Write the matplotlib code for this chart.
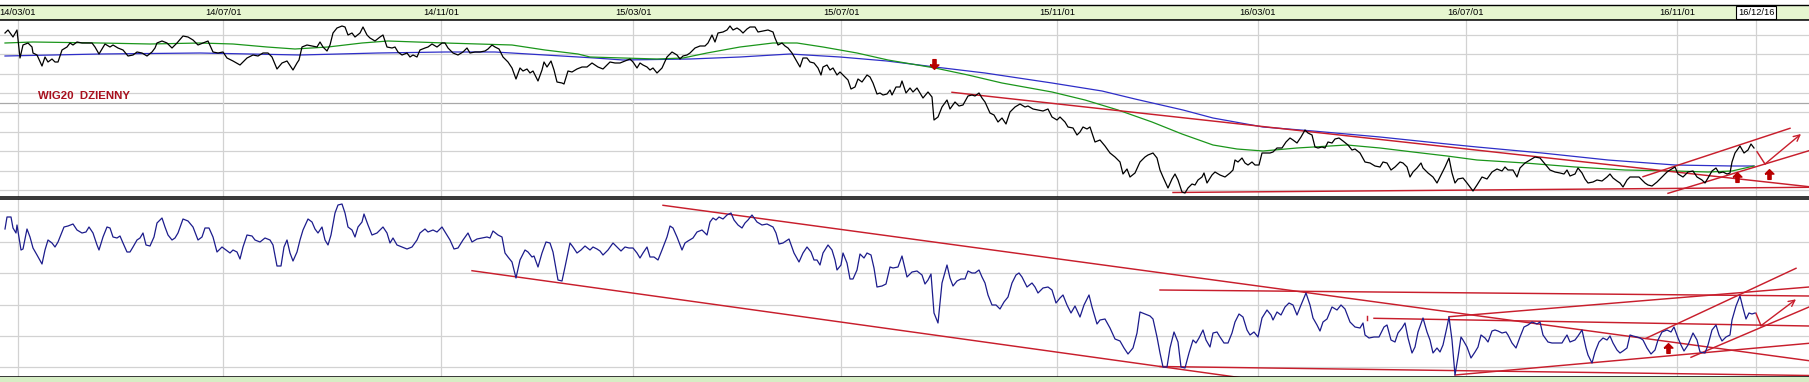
import matplotlib.pyplot as plt
import numpy as np
from matplotlib.path import Path
from matplotlib.patches import Rectangle

# x unit: chart column (one trading session is about 2.5 columns)
tick_pos = [18, 223, 441, 633, 841, 1057, 1258, 1466, 1677, 1756]
tick_lab = ['14/03/01', '14/07/01', '14/11/01', '15/03/01', '15/07/01',
            '15/11/01', '16/03/01', '16/07/01', '16/11/01', '16/12/16']

# WIG20 close (chart units)
price_t = [5, 8, 13, 17, 20, 23, 28, 32, 33, 37, 42, 45, 48, 52, 55, 58, 62, 67, 70, 73,
           77, 82, 87, 92, 95, 99, 105, 110, 113, 118, 123, 128, 133, 137, 142, 147, 152, 155, 157, 162,
           167, 172, 177, 183, 188, 193, 198, 203, 208, 213, 218, 223, 227, 233, 240, 247, 253, 258, 263, 268,
           272, 277, 282, 287, 293, 297, 299,
           302, 307, 312, 317, 320, 323, 327, 330, 333, 337, 342, 345, 348, 352, 355, 360, 363, 367, 370, 375,
           380, 383, 387, 392, 395, 398, 402, 407, 410, 413, 417, 420, 425, 428, 432, 437, 442, 445, 448, 453,
           458, 463, 467, 470, 475, 480, 485, 488, 492, 495, 499, 503, 508, 512, 516, 520, 523, 527, 530, 533,
           538, 542, 544, 547, 551, 554, 557, 562, 564, 568, 572, 577, 582, 587, 592,
           595, 598, 603, 607, 610, 615, 620, 625, 630, 633, 637, 640, 643, 647, 650, 653, 657, 662, 667, 672,
           677, 680, 683, 687, 690, 695, 700, 705, 708, 712, 715, 718, 723, 727, 730, 733, 737, 740, 743, 747,
           750, 755, 758, 763, 768, 773, 775, 778, 782, 785, 788, 792, 796, 800, 803, 807, 810, 814, 818, 821,
           823, 827, 830, 833, 837, 840, 845, 848, 851, 855, 858, 862, 867, 870, 873, 877, 880, 883, 887,
           890, 892, 896, 900, 902, 906, 910, 913, 917, 920, 923, 928, 932, 934, 938, 942, 947, 950, 955, 959,
           963, 968, 972, 975, 979, 982, 985, 990, 994, 998, 1002, 1006, 1010, 1015, 1020, 1025, 1028, 1033, 1038, 1043,
           1048, 1052, 1057, 1060, 1065, 1068, 1073, 1077, 1080, 1083, 1087, 1090, 1095, 1100, 1105, 1110, 1115, 1120, 1123, 1127,
           1130, 1135, 1140, 1145, 1148, 1153, 1157, 1160, 1163, 1168, 1172, 1175, 1178, 1182, 1185,
           1188, 1192, 1195, 1198, 1202, 1204, 1207, 1212, 1215, 1220, 1225, 1230, 1233, 1235, 1238, 1242, 1245, 1248, 1252, 1255,
           1259, 1262, 1266, 1270, 1273, 1277, 1282, 1286, 1290, 1293, 1297, 1301, 1305, 1308, 1312, 1315, 1318, 1322, 1325, 1328,
           1332, 1335, 1339, 1343, 1348, 1352, 1355, 1360, 1365, 1370, 1375, 1380, 1383, 1387, 1391, 1395, 1400, 1403, 1407, 1410,
           1413, 1417, 1421, 1423, 1428, 1433, 1437, 1442, 1445, 1449, 1452, 1455, 1458, 1463, 1467, 1470, 1473, 1477,
           1482, 1487, 1492, 1497, 1502, 1505, 1508, 1513, 1517, 1520, 1525, 1530, 1535, 1540, 1545, 1550, 1555, 1560, 1564, 1567,
           1570, 1575, 1578, 1582, 1585, 1588, 1593, 1597, 1602, 1607, 1610, 1613, 1617, 1620, 1623, 1627, 1630, 1635, 1639, 1645,
           1648, 1652, 1657, 1662, 1667, 1670, 1675, 1678, 1683, 1688, 1693, 1697, 1702, 1705, 1708, 1712, 1716, 1719, 1723, 1727,
           1730, 1732, 1735, 1740, 1744, 1748, 1751, 1754]
price_v = [164, 167, 160, 167, 139, 152, 154, 150, 144, 142, 131, 140, 135, 138, 135, 135, 147, 150, 154, 152,
           155, 154, 154, 154, 150, 143, 153, 150, 152, 149, 147, 141, 142, 145, 144, 141, 145, 149, 154, 156,
           154, 149, 154, 161, 160, 157, 152, 154, 156, 145, 144, 145, 139, 136, 132, 139, 142, 141, 144, 144,
           140, 128, 134, 136, 127, 134, 137,
           150, 152, 151, 150, 155, 150, 146, 152, 164, 169, 171, 170, 162, 164, 160, 164, 170, 162, 159, 156,
           160, 162, 150, 149, 150, 145, 142, 144, 140, 142, 140, 147, 149, 150, 153, 150, 154, 154, 149, 144,
           142, 145, 149, 144, 145, 145, 146, 148, 152, 150, 148, 140, 135, 129, 118, 129, 126, 128, 124, 126,
           116, 127, 135, 130, 136, 127, 115, 114, 113, 126, 125, 128, 130, 130, 134,
           132, 130, 128, 132, 135, 134, 134, 136, 138, 135, 129, 134, 132, 130, 127, 129, 124, 129, 140, 145,
           142, 138, 141, 142, 144, 149, 151, 151, 154, 162, 155, 164, 165, 167, 171, 167, 169, 167, 164, 168,
           170, 170, 165, 166, 167, 165, 159, 152, 154, 151, 149, 144, 137, 130, 139, 139, 135, 134, 129, 122,
           130, 132, 127, 129, 122, 125, 120, 117, 108, 110, 118, 115, 122, 120, 114, 103, 104, 102, 103,
           107, 102, 110, 110, 116, 104, 109, 105, 109, 104, 99, 105, 100, 77, 80, 90, 97, 88, 95, 91,
           92, 101, 102, 101, 104, 99, 95, 84, 82, 75, 79, 73, 85, 90, 93, 90, 91, 88, 87, 86,
           88, 80, 77, 80, 75, 70, 69, 62, 65, 70, 68, 70, 55, 57, 51, 44, 40, 35, 23, 28,
           20, 24, 35, 40, 42, 44, 39, 27, 20, 9, 18, 23, 17, 5, 4,
           9, 13, 12, 17, 20, 24, 14, 22, 25, 22, 20, 24, 27, 37, 35, 39, 34, 32, 35, 32,
           32, 44, 44, 44, 45, 49, 49, 55, 59, 57, 54, 60, 67, 64, 62, 50, 49, 50, 49, 55,
           54, 58, 59, 56, 52, 47, 48, 44, 35, 34, 31, 30, 35, 34, 27, 30, 35, 34, 30, 20,
           25, 29, 34, 29, 24, 20, 14, 24, 30, 39, 24, 14, 18, 19, 14, 10, 6, 12,
           20, 18, 25, 28, 26, 30, 27, 27, 20, 29, 34, 37, 40, 39, 33, 27, 25, 24, 23, 27,
           21, 23, 29, 24, 18, 14, 15, 17, 16, 20, 23, 19, 16, 14, 10, 17, 20, 20, 20, 14,
           12, 11, 15, 20, 25, 27, 30, 23, 20, 25, 26, 20, 17, 14, 19, 26, 29, 24, 25, 23,
           24, 35, 44, 51, 44, 47, 53, 49]

# moving averages
ma_fast_t = [5, 33, 100, 150, 200, 233, 267, 295, 328, 362, 388, 445, 512, 545, 578, 590, 623, 657, 683, 707,
             740, 773, 797, 823, 857, 888, 935, 968, 1002, 1052, 1085, 1118, 1152, 1182, 1213, 1237, 1263, 1297, 1330, 1347,
             1380, 1413, 1447, 1477, 1525, 1575, 1625, 1675, 1708, 1732, 1754]
ma_fast_v = [154, 155, 154, 153, 154, 153, 150, 148, 150, 154, 156, 154, 152, 147, 143, 140, 139, 138, 139, 144,
             150, 154, 154, 150, 144, 137, 129, 122, 114, 105, 97, 87, 75, 63, 52, 48, 46, 49, 51, 52,
             49, 45, 41, 37, 34, 30, 27, 26, 25, 26, 31]
ma_slow_t = [5, 100, 200, 300, 378, 445, 495, 545, 595, 623, 690, 740, 790, 840, 887, 935, 985, 1052, 1102, 1135,
             1183, 1213, 1263, 1313, 1380, 1447, 1477, 1542, 1608, 1675, 1732, 1754]
ma_slow_v = [141, 143, 144, 142, 144, 145, 145, 142, 139, 137, 138, 140, 143, 140, 136, 130, 124, 114, 106, 98,
             87, 79, 70, 66, 60, 53, 50, 44, 37, 32, 31, 31]

# oscillator (chart units)
osc_t = [5, 7, 11, 13, 16, 17, 21, 23, 27, 30, 33, 37, 42, 45, 48, 52, 55, 58, 64, 68,
         73, 77, 82, 86, 89, 93, 97, 99, 103, 107, 110, 113, 117, 120, 123, 127, 130, 133, 137, 140,
         143, 146, 150, 154, 157, 162, 165, 168, 172, 175, 178, 183, 188, 193, 198, 202, 205, 209, 213, 217,
         222, 226, 230, 233, 237, 240, 243, 247, 252, 255, 260, 265, 270, 273, 277, 281, 284, 287, 290, 293, 297,
         300, 303, 308, 312, 315, 318, 322, 325, 328, 331, 335, 338, 342, 345, 348, 352, 355, 358, 362, 364,
         368, 372, 377, 380, 383, 387, 390, 393, 397, 402, 407, 412, 417, 420, 425, 428, 433, 437, 442, 447,
         450, 454, 458, 463, 468, 472, 477, 482, 487, 490, 493, 498, 502, 505, 508, 512, 516, 520, 525, 528,
         532, 534, 538, 542, 546, 550, 553, 558, 562, 565, 570, 573, 577, 581, 585, 590,
         593, 597, 600, 603, 608, 613, 617, 621, 625, 629, 633, 637, 640, 643, 647, 650, 654, 658, 662, 667,
         670, 673, 677, 682, 685, 688, 693, 697, 702, 707, 710, 713, 716, 719, 723, 727, 731, 734, 738, 742,
         745, 748, 752, 757, 762, 767, 773, 776, 779, 783, 789, 794, 799, 803, 807, 811, 814, 817, 820, 823,
         828, 832, 835, 837, 841, 843, 847, 850, 853, 857, 860, 864, 867, 871, 874, 877, 882, 886, 890,
         893, 898, 902, 907, 912, 917, 922, 925, 928, 931, 934, 938, 942, 947, 950, 953, 957, 961, 965, 968,
         972, 975, 979, 982, 985, 988, 992, 996, 1000, 1004, 1008, 1012, 1016, 1019, 1022, 1027, 1032, 1035, 1038, 1043,
         1048, 1052, 1056, 1060, 1063, 1067, 1071, 1075, 1080, 1084, 1089, 1092, 1097, 1100, 1105, 1110, 1115, 1120, 1124, 1128,
         1133, 1137, 1140, 1145, 1150, 1153, 1157, 1160, 1163, 1167, 1170, 1174, 1178, 1181, 1185,
         1189, 1193, 1196, 1199, 1203, 1206, 1210, 1213, 1217, 1220, 1224, 1228, 1232, 1235, 1239, 1243, 1247, 1250, 1254, 1258,
         1262, 1267, 1271, 1273, 1277, 1281, 1285, 1289, 1293, 1297, 1301, 1306, 1310, 1313, 1317, 1320, 1323, 1327, 1332, 1337,
         1341, 1345, 1350, 1355, 1360, 1363, 1365, 1369, 1374, 1379, 1384, 1387, 1391, 1395, 1398, 1402, 1405, 1408, 1412, 1415,
         1418, 1423, 1427, 1430, 1433, 1437, 1440, 1443, 1447, 1449, 1452, 1455, 1458, 1461, 1463, 1467, 1471, 1475, 1478,
         1481, 1485, 1488, 1492, 1495, 1498, 1502, 1506, 1508, 1512, 1516, 1520, 1524, 1528, 1532, 1537, 1540, 1543, 1548, 1552,
         1557, 1562, 1565, 1567, 1570, 1575, 1578, 1582, 1586, 1588, 1592, 1595, 1599, 1603, 1607, 1610, 1613, 1617, 1620, 1623,
         1627, 1630, 1633, 1637, 1640, 1643, 1647, 1651, 1655, 1658, 1662, 1667, 1671, 1674, 1678, 1681, 1684, 1688, 1693, 1697,
         1700, 1705, 1708, 1712, 1716, 1719, 1722, 1726, 1730, 1732, 1736, 1740, 1743, 1746, 1749, 1752, 1755]
osc_v = [147, 159, 159, 148, 143, 151, 126, 127, 147, 139, 128, 121, 112, 126, 136, 133, 129, 134, 149, 150,
         152, 146, 143, 144, 149, 143, 131, 126, 139, 149, 148, 139, 138, 140, 133, 124, 124, 129, 136, 138,
         143, 131, 130, 139, 153, 158, 149, 141, 136, 138, 143, 157, 155, 149, 136, 139, 148, 148, 139, 124,
         129, 126, 123, 126, 124, 117, 129, 141, 140, 136, 134, 138, 136, 131, 110, 110, 129, 136, 123, 115, 124,
         136, 146, 157, 154, 147, 143, 149, 136, 131, 141, 163, 171, 172, 163, 149, 146, 139, 149, 154, 162,
         151, 141, 143, 146, 149, 143, 133, 138, 131, 129, 127, 129, 136, 143, 147, 144, 146, 144, 149, 141,
         136, 127, 128, 136, 143, 134, 137, 138, 139, 138, 145, 141, 139, 123, 119, 114, 98, 116, 126, 124,
         119, 120, 109, 123, 134, 133, 124, 96, 95, 109, 133, 129, 123, 126, 130, 126,
         129, 127, 125, 121, 126, 133, 129, 125, 129, 128, 128, 123, 118, 123, 129, 119, 119, 116, 126, 139,
         150, 148, 139, 126, 133, 135, 138, 144, 146, 141, 154, 158, 156, 159, 157, 161, 163, 156, 151, 148,
         153, 156, 161, 154, 151, 152, 149, 143, 132, 133, 137, 123, 114, 123, 129, 124, 116, 116, 111, 123,
         131, 126, 116, 106, 111, 123, 113, 97, 97, 106, 122, 118, 123, 121, 108, 89, 90, 92, 109,
         108, 109, 120, 99, 104, 105, 101, 92, 96, 102, 63, 53, 93, 111, 98, 90, 95, 97, 97, 105,
         103, 103, 106, 99, 93, 81, 71, 71, 67, 74, 79, 93, 101, 103, 99, 89, 93, 89, 83, 88,
         89, 86, 73, 78, 81, 71, 63, 70, 59, 71, 81, 69, 52, 56, 57, 48, 37, 35, 28, 22,
         28, 43, 64, 62, 60, 57, 39, 23, 9, 9, 28, 44, 34, 9, 8,
         23, 36, 33, 38, 46, 36, 29, 43, 44, 39, 33, 33, 43, 54, 62, 59, 46, 41, 44, 39,
         58, 66, 61, 56, 64, 61, 69, 73, 71, 61, 71, 83, 71, 58, 51, 45, 54, 57, 69, 66,
         71, 67, 54, 49, 48, 53, 41, 38, 39, 39, 49, 51, 36, 34, 43, 48, 53, 38, 23, 29,
         44, 58, 44, 36, 23, 28, 24, 31, 49, 59, 36, 1, 19, 39, 36, 29, 18, 24, 29,
         41, 38, 34, 45, 46, 45, 43, 44, 41, 33, 28, 39, 49, 51, 54, 52, 54, 41, 34, 33,
         33, 33, 38, 41, 34, 36, 40, 46, 28, 21, 13, 24, 34, 38, 36, 40, 33, 26, 23, 25,
         28, 41, 40, 39, 38, 36, 28, 22, 26, 36, 44, 46, 44, 49, 38, 31, 25, 31, 43, 36,
         24, 23, 31, 46, 51, 41, 35, 39, 41, 56, 70, 80, 68, 57, 63, 62, 63]

# trend lines drawn by the analyst: [start, end]
top_lines_t = [[952, 1809], [1173, 1809], [1643, 1790], [1668, 1809], [1757, 1765]]
top_lines_v = [[104.7, 10.3], [4.5, 9.7], [20.3, 68.7], [3.7, 46.3], [45.3, 33]]
top_arrow_t = [1765, 1801]
top_arrow_v = [33, 63]
bot_lines_t = [[663, 1809], [472, 1250], [1160, 1809], [1160, 1809], [1374, 1809], [1367, 1367],
               [1449, 1809], [1455, 1809], [1646, 1796], [1691, 1809], [1756, 1761]]
bot_lines_v = [[170.7, 15.3], [105.3, -3], [9.5, 0.5], [86, 80], [57.7, 50], [60, 56.5],
               [59.3, 89], [1, 32.7], [37.7, 107.7], [18.7, 69], [62.7, 50.3]]
bot_arrow_t = [1761, 1796]
bot_arrow_v = [50.3, 76.7]

# signals
sell_t, sell_v = [934], [133]
buy_top_t, buy_top_v = [1737, 1769], [20, 23]
buy_bot_t, buy_bot_v = [1668], [28]

top_grid = [7, 26.4, 45.8, 65.2, 84.6, 104, 123.4, 142.8, 162.2]
bot_grid = [8.7, 40.1, 71.4, 102.8, 134.1, 165.5]

RED = '#c81e2c'
DARKRED = '#b80000'
GRID = '#d2d2d2'

up_arrow = Path([(-0.5, 0.05), (0, 0.55), (0.5, 0.05), (0.18, 0.05), (0.18, -0.55),
                 (-0.18, -0.55), (-0.18, 0.05), (-0.5, 0.05)])
down_arrow = Path([(x, -y) for x, y in up_arrow.vertices])

W, H = 1809, 382
fig = plt.figure(figsize=(W / 100, H / 100), dpi=100)
fig.patch.set_facecolor('white')
fig.patches.append(Rectangle((0, 0), 1, 5 / H, transform=fig.transFigure,
                             facecolor='#d6edc4', edgecolor='none', zorder=0))


def panel(y0, y1):
    ax = fig.add_axes([0, 1 - y1 / H, 1, (y1 - y0) / H])
    ax.set_xlim(0, W)
    ax.set_xticks(tick_pos)
    ax.tick_params(length=0, labelleft=False, labelbottom=False)
    for s in ['left', 'right']:
        ax.spines[s].set_visible(False)
    for s in ['top', 'bottom']:
        ax.spines[s].set_color('black')
        ax.spines[s].set_linewidth(1.1)
    ax.grid(True, color=GRID, lw=0.9)
    ax.set_axisbelow(True)
    return ax


# header with dates
hd = fig.add_axes([0, 1 - 20 / H, 1, 15 / H])
hd.set_facecolor('#e6f6d0')
hd.set_xlim(0, W)
hd.set_ylim(0, 1)
hd.set_xticks([])
hd.set_yticks([])
for s in ['left', 'right']:
    hd.spines[s].set_visible(False)
for s in ['top', 'bottom']:
    hd.spines[s].set_linewidth(1.0)
for p, lab in zip(tick_pos, tick_lab):
    box = None
    if lab == tick_lab[-1]:
        box = dict(boxstyle='square,pad=0.18', fc='white', ec='black', lw=0.8)
    hd.text(p, 0.5, lab, ha='center', va='center', fontsize=6.7,
            family='Liberation Sans', bbox=box)

# price panel
ax1 = panel(20, 197)
ax1.set_ylim(0, 177)
ax1.set_yticks(top_grid)
ax1.axhline(93.7, color='#a8a8a8', lw=0.9, zorder=0.5)
ax1.plot(ma_slow_t, ma_slow_v, color='#2e2ec8', lw=0.9)
ax1.plot(ma_fast_t, ma_fast_v, color='#1b961b', lw=0.9)
for xs, ys in zip(top_lines_t, top_lines_v):
    ax1.plot(xs, ys, color=RED, lw=1.05)
ax1.plot(price_t, price_v, color='black', lw=0.9)
ax1.annotate('', xy=(top_arrow_t[1], top_arrow_v[1]), xytext=(top_arrow_t[0], top_arrow_v[0]),
             arrowprops=dict(arrowstyle='->', color=RED, lw=1.0, mutation_scale=11,
                             shrinkA=0, shrinkB=0))
ax1.plot(sell_t, sell_v, ls='none', marker=down_arrow, ms=7, color=DARKRED)
ax1.plot(buy_top_t, buy_top_v, ls='none', marker=up_arrow, ms=7, color=DARKRED)
ax1.text(38, 101, 'WIG20  DZIENNY', color='#a8101e', fontsize=8.2, fontweight='bold',
         family='Liberation Sans', va='center', ha='left')

# oscillator panel
ax2 = panel(199, 376.5)
ax2.set_ylim(-0.5, 177)
ax2.set_yticks(bot_grid)
for xs, ys in zip(bot_lines_t, bot_lines_v):
    ax2.plot(xs, ys, color=RED, lw=1.05)
ax2.plot(osc_t, osc_v, color='#1c1c8c', lw=0.9)
ax2.annotate('', xy=(bot_arrow_t[1], bot_arrow_v[1]), xytext=(bot_arrow_t[0], bot_arrow_v[0]),
             arrowprops=dict(arrowstyle='->', color=RED, lw=1.0, mutation_scale=11,
                             shrinkA=0, shrinkB=0))
ax2.plot(buy_bot_t, buy_bot_v, ls='none', marker=up_arrow, ms=7, color=DARKRED)

fig.savefig('out.png', dpi=100, facecolor=fig.get_facecolor())
